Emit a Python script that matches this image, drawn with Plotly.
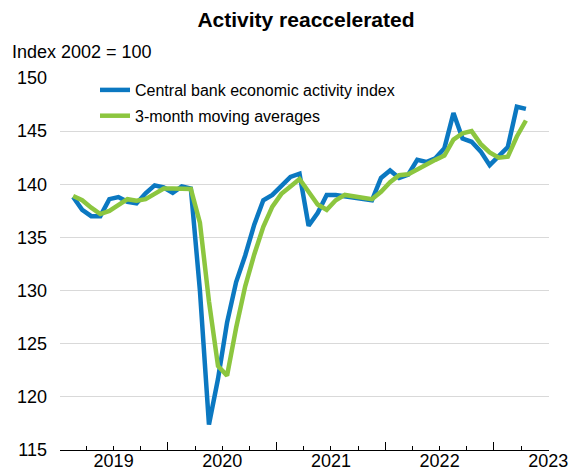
import plotly.graph_objects as go

# ---- data ----
months = [f"{y}-{m:02d}" for y in range(2019, 2024) for m in range(1, 13)][:51]  # Jan 2019 .. Mar 2023

activity_index = [
    138.8, 137.6, 137.0, 137.0, 138.6, 138.8, 138.35, 138.2, 139.15, 139.9, 139.7, 139.2,   # 2019
    139.8, 139.6, 130.0, 117.4, 121.7, 127.0, 130.8, 133.3, 136.2, 138.5, 139.0, 139.8,     # 2020
    140.7, 141.0, 136.1, 137.3, 139.0, 139.0, 138.9, 138.8, 138.6, 138.5, 140.6, 141.3,     # 2021
    140.6, 140.9, 142.3, 142.1, 142.45, 143.4, 146.7, 144.3, 144.0, 143.1, 141.8, 142.6,    # 2022
    143.5, 147.3, 147.1,                                                                    # 2023
]

moving_avg_3m = [
    138.9, 138.5, 137.8, 137.2, 137.5, 138.1, 138.6, 138.45, 138.6, 139.1, 139.6, 139.6,
    139.6, 139.55, 136.4, 129.0, 122.9, 122.0, 126.5, 130.4, 133.4, 136.0, 137.9, 139.1,
    139.8, 140.5, 139.3, 138.1, 137.6, 138.5, 139.0, 138.9, 138.8, 138.6, 139.3, 140.2,
    140.85, 140.95, 141.4, 141.9, 142.3, 142.7, 144.2, 144.8, 145.0, 143.8, 143.0, 142.5,
    142.6, 144.5, 146.0,
]

year_labels = ["2019", "2020", "2021", "2022", "2023"]
series_names = ["Central bank economic activity index", "3-month moving averages"]

# ---- layout constants ----
W, H = 571, 471
# target plot box in window pixels: x 60..549, y 78..450
ML, MT = 60, 78
MR, MB = W - 549, H - 450
PW, PH = W - ML - MR, H - MT - MB
BLUE = "#0B78C1"
GREEN = "#8CC63F"
FONT = "Arial, Liberation Sans, sans-serif"

x = list(range(len(months)))
# axis geometry in month units (relative to first observation)
x_left, x_right = -1.45, 52.55
label_pos = [4.47 + 12 * i for i in range(len(year_labels))]
tall_pos = [10.47 + 12 * i for i in range(4)]
quarter_pos = [-1.53 + 3 * i for i in range(19)]
quarter_pos = [q for q in quarter_pos if x_left - 0.1 <= q <= x_right + 0.1]

fig = go.Figure()
fig.add_trace(go.Scatter(x=x, y=activity_index, mode="lines", name=series_names[0],
                         line=dict(color=BLUE, width=4.5), customdata=months,
                         hovertemplate="%{customdata}: %{y}<extra></extra>", legendgroup="a"))
fig.add_trace(go.Scatter(x=x, y=moving_avg_3m, mode="lines", name=series_names[1],
                         line=dict(color=GREEN, width=4.5), customdata=months,
                         hovertemplate="%{customdata}: %{y}<extra></extra>", legendgroup="b"))
# empty trace to carry the overlay axis with the tall year ticks
fig.add_trace(go.Scatter(x=[], y=[], xaxis="x2", showlegend=False, hoverinfo="skip"))

fig.update_layout(
    width=W, height=H,
    margin=dict(l=ML, r=MR, t=MT, b=MB, pad=0, autoexpand=False),
    paper_bgcolor="white", plot_bgcolor="white",
    font=dict(family=FONT, size=18, color="black"),
    title=dict(text="<b>Activity reaccelerated</b>", x=306 / W, xanchor="center",
               y=1 - 20 / H, yanchor="middle", font=dict(size=21, color="black")),
    showlegend=True,
    legend=dict(x=(95 - ML) / PW, y=1 + 5 / PH, xanchor="left", yanchor="top",
                font=dict(size=16), bgcolor="rgba(0,0,0,0)", tracegroupgap=2),
    xaxis=dict(range=[x_left, x_right], showgrid=False, zeroline=False, automargin=False,
               showline=True, linecolor="black", linewidth=1,
               tickmode="array", tickvals=label_pos, ticktext=year_labels,
               ticks="inside", ticklen=4, tickcolor="black", tickwidth=1,
               ticklabelstandoff=-6,
               minor=dict(tickvals=quarter_pos, ticks="inside", ticklen=4,
                          tickcolor="black", tickwidth=1, showgrid=False)),
    xaxis2=dict(range=[x_left, x_right], overlaying="x", anchor="y", side="bottom",
                showgrid=False, zeroline=False, showline=False, automargin=False,
                tickmode="array", tickvals=tall_pos, showticklabels=False,
                ticks="inside", ticklen=8, tickcolor="black", tickwidth=1),
    yaxis=dict(range=[115, 150], tickmode="linear", tick0=115, dtick=5, automargin=False,
               showgrid=True, gridcolor="#d9d9d9", gridwidth=1,
               zeroline=False, showline=False, ticks="", ticklabelstandoff=12),
    annotations=[dict(text="Index 2002 = 100", xref="paper", yref="paper",
                      x=(10 - ML) / PW, y=1 + (MT - 52) / PH,
                      xanchor="left", yanchor="middle", showarrow=False,
                      font=dict(size=18))],
)

# remove the default 8px page margin so the figure fills the window exactly
fig.write_html("out.html", config={"displayModeBar": False},
               post_script="document.body.style.margin='0';document.body.style.overflow='hidden';")
